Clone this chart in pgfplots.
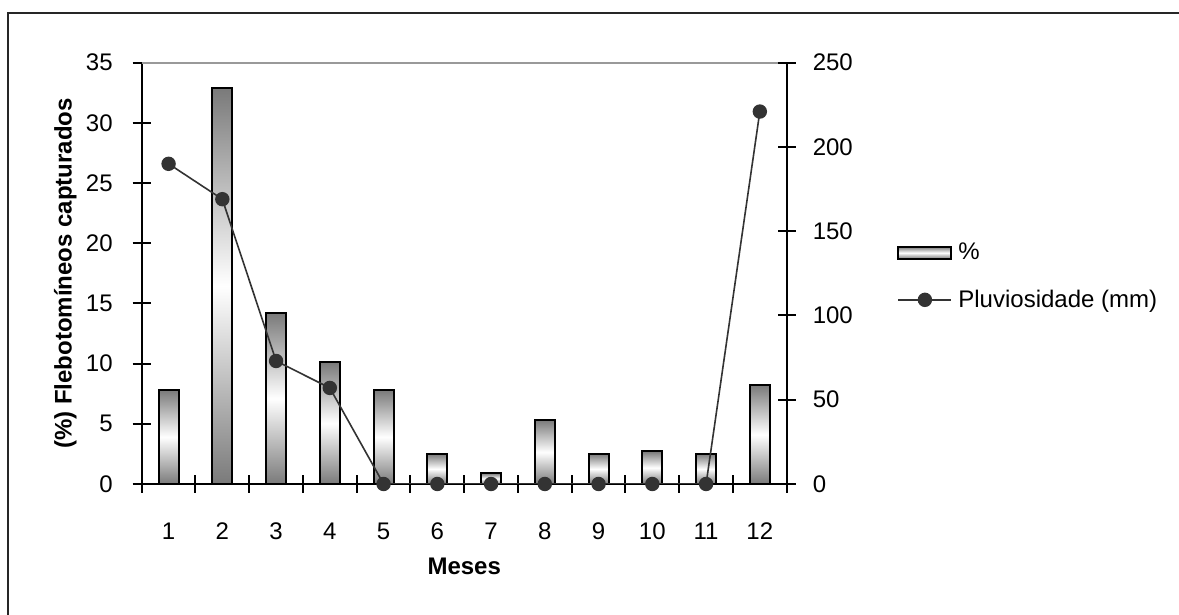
\documentclass[border=0pt]{standalone}
\usepackage{fontspec}
\setmainfont{Liberation Sans}
\usepackage{pgfplots}
\pgfplotsset{compat=1.18}
\definecolor{linec}{HTML}{333333}
\definecolor{barg}{HTML}{7A7A7A}
\newcommand{\fs}{\fontsize{12}{14.4}\selectfont}
\pgfplotsset{
  mylegline/.style={legend image code/.code={\draw[mark repeat=2,mark phase=2,##1] plot coordinates {(0pt,0pt) (13.25pt,0pt) (26.5pt,0pt)};}},
  gbar/.style={ybar, bar shift=0pt, bar width=10pt, draw=black, line width=1pt,
    top color=barg, bottom color=barg, middle color=white, forget plot},
  base/.style={
    scale only axis, width=322.5pt, height=210.65pt,
    at={(70.85pt,65.5pt)}, anchor=south west,
    xmin=0.5, xmax=12.5,
    tick align=center,
    /pgf/number format/assume math mode=true,
    tick label style={font=\fs},
    label style={font=\fs\bfseries},
    axis line style={line width=1.1pt},
    every tick/.style={black, line width=1pt},
  }
}
\begin{document}
\begin{tikzpicture}
\useasboundingbox (0,0) rectangle (589.5pt,307.5pt);
\draw[line width=1pt, black!85] (4.15pt,-5pt) -- (4.15pt,300.85pt) -- (600pt,300.85pt);
\begin{axis}[base,
  axis x line*=bottom, axis y line*=left,
  ymin=0, ymax=35, ytick={0,5,...,35},
  major tick length=9pt,
  xtick={0.5,1.5,...,12.5},
  xticklabels={1,2,3,4,5,6,7,8,9,10,11,12},
  x tick label as interval,
  xticklabel style={yshift=-11.5pt},
  yticklabel style={xshift=-6.5pt},
  ylabel={(\%) Flebotomíneos capturados},
  ylabel style={at={(axis description cs:0,0.5)}, anchor=south, inner sep=0pt, yshift=32.3pt},
  xlabel={Meses},
  xlabel style={at={(axis description cs:0.5,0)}, anchor=center, yshift=-41pt},
]
\draw[gray!80, line width=1pt] (rel axis cs:0,1) -- (rel axis cs:1,1);
\addplot[gbar] coordinates {(1,7.8)};
\addplot[gbar] coordinates {(2,32.9)};
\addplot[gbar] coordinates {(3,14.2)};
\addplot[gbar] coordinates {(4,10.1)};
\addplot[gbar] coordinates {(5,7.8)};
\addplot[gbar] coordinates {(6,2.5)};
\addplot[gbar] coordinates {(7,0.9)};
\addplot[gbar] coordinates {(8,5.3)};
\addplot[gbar] coordinates {(9,2.5)};
\addplot[gbar] coordinates {(10,2.7)};
\addplot[gbar] coordinates {(11,2.5)};
\addplot[gbar] coordinates {(12,8.2)};
\end{axis}
\begin{axis}[base,
  axis x line=none, axis y line*=right,
  ymin=0, ymax=250, ytick={0,50,...,250},
  major tick length=9pt,
  yticklabel style={xshift=5pt},
  legend style={draw=none, fill=none, font=\fs, at={(rel axis cs:1.171,0.4925)}, anchor=west,
    inner sep=0pt, row sep=11.5pt, column sep=2pt, nodes={inner sep=1pt}},
  legend cell align=left,
]
\addlegendimage{legend image code/.code={\draw[draw=black, line width=1pt, top color=barg, bottom color=barg, middle color=white] (0pt,-3pt) rectangle (26.5pt,3pt);}}
\addlegendentry{\%}
\addplot[linec, line width=0.8pt, mark=*, mark size=3.2pt, mark options={fill=linec, draw=linec}, mylegline]
  coordinates {(1,190) (2,169) (3,73) (4,57) (5,0) (6,0) (7,0) (8,0) (9,0) (10,0) (11,0) (12,221)};
\addlegendentry{Pluviosidade (mm)}
\end{axis}
\end{tikzpicture}
\end{document}
